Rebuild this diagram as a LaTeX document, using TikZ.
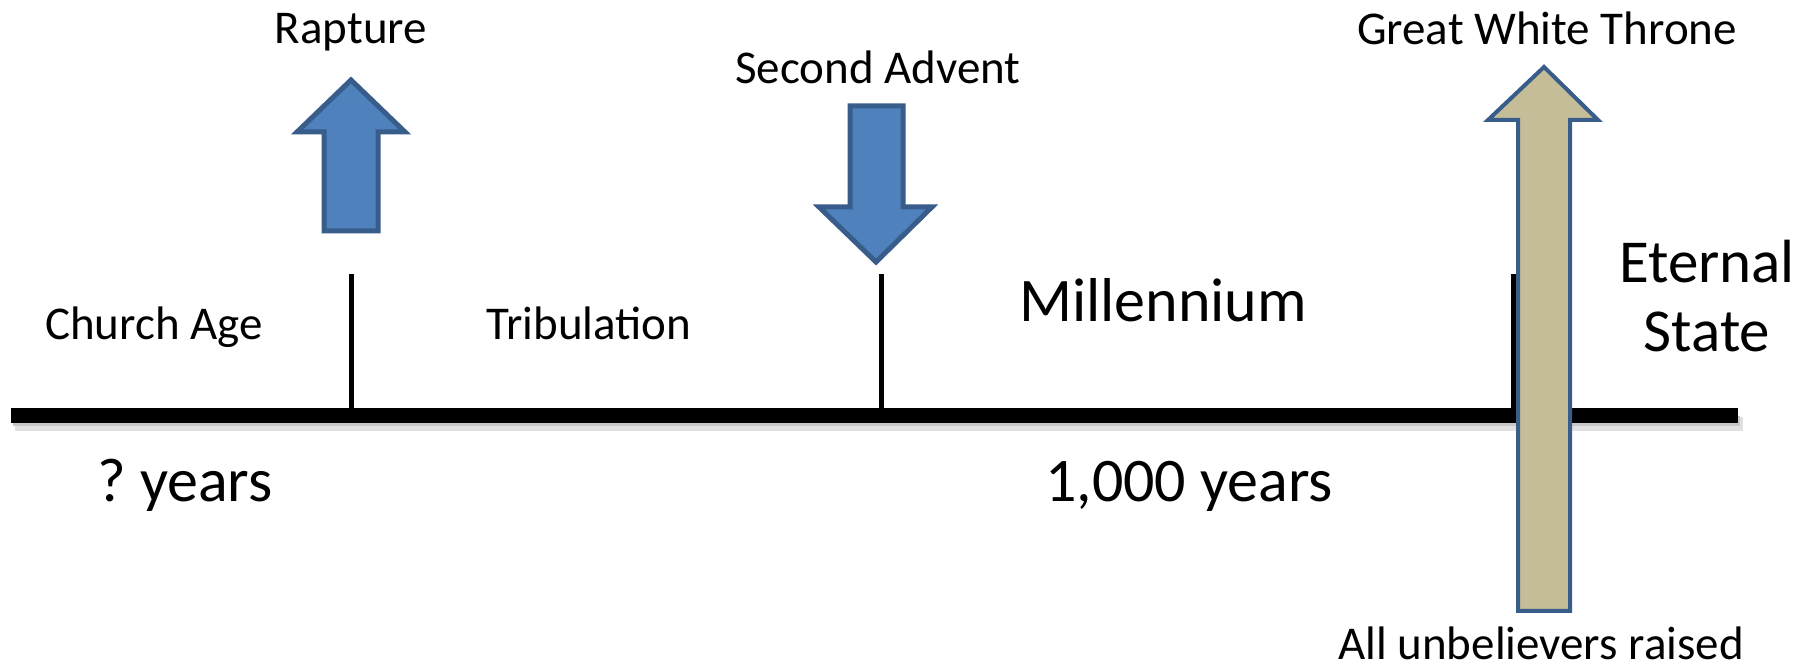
\documentclass[tikz,border=0pt]{standalone}
\usepackage{fontspec}
\setmainfont{Carlito}
\definecolor{arrowblue}{HTML}{4F81BD}
\definecolor{arrowedge}{HTML}{385D8A}
\definecolor{thronetan}{HTML}{C4BD97}

\begin{document}
\begin{tikzpicture}[x=0.5pt,y=-0.5pt,
        small/.style={anchor=base, inner sep=0pt, font=\fontsize{23.5}{28}\selectfont},
        big/.style={anchor=base, inner sep=0pt, font=\fontsize{31}{37}\selectfont},
        timeline/.style={line width=7.5pt},
        tickmark/.style={line width=2.5pt},
        bluearrow/.style={fill=arrowblue, draw=arrowedge, line width=2.5pt, line join=miter},
        tanarrow/.style={fill=thronetan, draw=arrowedge, line width=2pt, line join=miter}]
        \useasboundingbox (0,0) rectangle (1803,672);

        % time line with its shadow
        \coordinate (start) at (11,415.5);
        \coordinate (end) at (1738,415.5);
        \fill[black!12] (15,417) rectangle (1743,431);
        \fill[black!22] (13,416) rectangle (1740,426);
        \draw[timeline] (start) -- (end);

        % ticks
        \coordinate (rapt) at (351,412);
        \coordinate (advt) at (881,412);
        \coordinate (thrt) at (1513,412);
        \draw[tickmark] (rapt) -- ++(0,-138);
        \draw[tickmark] (advt) -- ++(0,-138);
        \draw[tickmark] (thrt) -- ++(0,-138);

        % block arrows
        \draw[bluearrow] (351,80) -- (405,132) -- (378,132) -- (378,231) -- (324,231)
                         -- (324,132) -- (297,132) -- cycle;
        \draw[bluearrow] (850,106) -- (903,106) -- (903,207) -- (932,207) -- (876,262)
                         -- (819,207) -- (850,207) -- cycle;
        \draw[tanarrow] (1544,67) -- (1598,120) -- (1570,120) -- (1570,611) -- (1518,611)
                        -- (1518,120) -- (1488,120) -- cycle;

        % labels
        \node[small] (rapture) at (351,44) {Rapture};
        \node[small] (advent) at (878,84) {Second Advent};
        \node[small] (throne) at (1547,45) {Great White Throne};
        \node[small] (raised) at (1541,660) {All unbelievers raised};
        \node[small] (church) at (154,340) {Church Age};
        \node[small] (trib) at (589,340) {Tribulation};
        \node[big] (mill) at (1163,322) {Millennium};
        \node[big] (qyears) at (185,502) {?\ years};
        \node[big] (kyears) at (1189,502) {1,000 years};
        \node[inner sep=0pt, font=\fontsize{30.5}{34.5}\selectfont] (eternal) at (1707,303.5) {
                                                           \begin{tabular}{c}
                                                            Eternal \\
                                                            State
                                                           \end{tabular}
                                                          };
\end{tikzpicture}
\end{document}
